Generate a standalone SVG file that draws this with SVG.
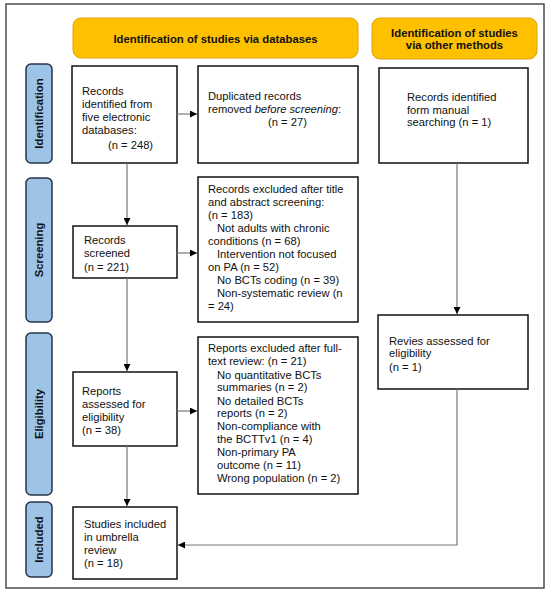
<svg xmlns="http://www.w3.org/2000/svg" width="550" height="592" viewBox="0 0 550 592">
<defs>
<style>
.t{font-family:"Liberation Sans",Arial,sans-serif;font-size:11.2px;fill:#111}
.h{font-family:"Liberation Sans",Arial,sans-serif;font-size:11.3px;font-weight:bold;fill:#111;text-anchor:middle}
.s{font-family:"Liberation Sans",Arial,sans-serif;font-size:11.3px;font-weight:bold;fill:#111;text-anchor:middle}
.box{fill:#fff;stroke:#111;stroke-width:1.5}
.hdr{fill:#FFC000;stroke:#E0A400;stroke-width:1}
.side{fill:#9DC3E6;stroke:#28334A;stroke-width:1.5}
.c{fill:none;stroke:#777;stroke-width:1.2}
</style>
<marker id="a" viewBox="0 0 10 10" refX="10" refY="5" markerWidth="7" markerHeight="7" markerUnits="userSpaceOnUse" orient="auto">
<path d="M0,0 L10,5 L0,10 z" fill="#000"/>
</marker>
</defs>
<rect x="0" y="0" width="550" height="592" fill="#fff"/>
<rect x="6" y="4" width="538" height="584" fill="none" stroke="#333" stroke-width="1.3"/>

<g id="hdr1"><rect class="hdr" x="73" y="18" width="285" height="40" rx="8"/><text class="h" x="215.5" y="43">Identification of studies via databases</text></g>
<g id="hdr2"><rect class="hdr" x="372" y="18" width="165" height="41" rx="8"/><text class="h" x="454.5" y="37">Identification of studies</text><text class="h" x="454.5" y="49">via other methods</text></g>

<g id="side-identification"><rect class="side" x="26" y="64" width="26" height="99" rx="5"/><text class="s" transform="translate(43,113.5) rotate(-90)">Identification</text></g>
<g id="side-screening"><rect class="side" x="26" y="178" width="26" height="144" rx="5"/><text class="s" transform="translate(43,250) rotate(-90)">Screening</text></g>
<g id="side-eligibility"><rect class="side" x="26" y="333" width="26" height="162" rx="5"/><text class="s" transform="translate(43,414) rotate(-90)">Eligibility</text></g>
<g id="side-included"><rect class="side" x="26" y="502" width="26" height="75" rx="5"/><text class="s" transform="translate(43,539.5) rotate(-90)">Included</text></g>

<g id="n-identified"><rect class="box" x="72" y="66" width="105" height="97"/>
<text class="t" x="82" y="95">Records</text>
<text class="t" x="82" y="108">identified from</text>
<text class="t" x="82" y="121">five electronic</text>
<text class="t" x="82" y="134">databases:</text>
<text class="t" x="108" y="149">(n = 248)</text></g>

<g id="n-duplicated"><rect class="box" x="198" y="66" width="160" height="97"/>
<text class="t" x="208" y="100">Duplicated records</text>
<text class="t" x="208" y="113">removed <tspan font-style="italic">before screening</tspan>:</text>
<text class="t" x="268" y="126">(n = 27)</text></g>

<g id="n-manual"><rect class="box" x="379" y="68" width="149" height="95"/>
<text class="t" x="407" y="101">Records identified</text>
<text class="t" x="407" y="114">form manual</text>
<text class="t" x="407" y="126">searching (n = 1)</text></g>

<g id="n-screened"><rect class="box" x="73" y="226" width="104" height="52"/>
<text class="t" x="84" y="244">Records</text>
<text class="t" x="84" y="257">screened</text>
<text class="t" x="84" y="271">(n = 221)</text></g>

<g id="n-excluded1"><rect class="box" x="198" y="177" width="160" height="145"/>
<text class="t" x="208" y="193">Records excluded after title</text>
<text class="t" x="208" y="206">and abstract screening:</text>
<text class="t" x="208" y="219">(n = 183)</text>
<text class="t" x="217" y="232">Not adults with chronic</text>
<text class="t" x="208" y="245">conditions (n = 68)</text>
<text class="t" x="217" y="258">Intervention not focused</text>
<text class="t" x="208" y="271">on PA (n = 52)</text>
<text class="t" x="217" y="284">No BCTs coding (n = 39)</text>
<text class="t" x="217" y="297">Non-systematic review (n</text>
<text class="t" x="208" y="310">= 24)</text></g>

<g id="n-assessed"><rect class="box" x="73" y="372" width="104" height="74"/>
<text class="t" x="82" y="395">Reports</text>
<text class="t" x="82" y="408">assessed for</text>
<text class="t" x="82" y="421">eligibility</text>
<text class="t" x="82" y="434">(n = 38)</text></g>

<g id="n-excluded2"><rect class="box" x="198" y="337" width="160" height="157"/>
<text class="t" x="208" y="352">Reports excluded after full-</text>
<text class="t" x="208" y="365">text review: (n = 21)</text>
<text class="t" x="217" y="379">No quantitative BCTs</text>
<text class="t" x="217" y="391">summaries (n = 2)</text>
<text class="t" x="217" y="405">No detailed BCTs</text>
<text class="t" x="217" y="417">reports (n = 2)</text>
<text class="t" x="217" y="430">Non-compliance with</text>
<text class="t" x="217" y="443">the BCTTv1 (n = 4)</text>
<text class="t" x="217" y="456">Non-primary PA</text>
<text class="t" x="217" y="469">outcome (n = 11)</text>
<text class="t" x="217" y="482">Wrong population (n = 2)</text></g>

<g id="n-revies"><rect class="box" x="378" y="315" width="150" height="74"/>
<text class="t" x="389" y="345">Revies assessed for</text>
<text class="t" x="389" y="357">eligibility</text>
<text class="t" x="389" y="371">(n = 1)</text></g>

<g id="n-included"><rect class="box" x="73" y="507" width="104" height="72"/>
<text class="t" x="84" y="528">Studies included</text>
<text class="t" x="84" y="541">in umbrella</text>
<text class="t" x="84" y="554">review</text>
<text class="t" x="84" y="567">(n = 18)</text></g>

<g id="connectors">
<path class="c" d="M127,163 V225" marker-end="url(#a)"/>
<path class="c" d="M127,278 V371" marker-end="url(#a)"/>
<path class="c" d="M127,446 V506" marker-end="url(#a)"/>
<path class="c" d="M177,114 H197" marker-end="url(#a)"/>
<path class="c" d="M177,253 H197" marker-end="url(#a)"/>
<path class="c" d="M177,411 H197" marker-end="url(#a)"/>
<path class="c" d="M457,163 V314" marker-end="url(#a)"/>
<path class="c" d="M457,389 V545 H178" marker-end="url(#a)"/>
</g>
</svg>
